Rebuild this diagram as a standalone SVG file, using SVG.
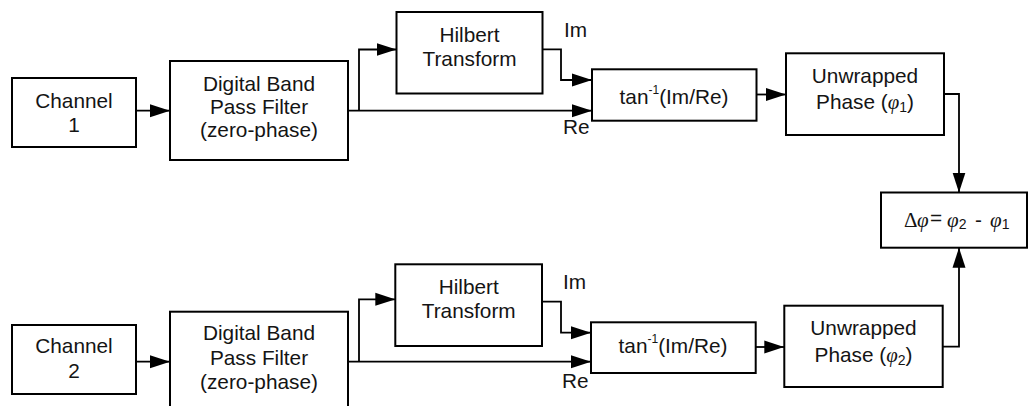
<svg xmlns="http://www.w3.org/2000/svg" width="1029" height="406" viewBox="0 0 1029 406">
  <style>
    .box { fill: #ffffff; stroke: #000000; stroke-width: 2; }
    .wire { fill: none; stroke: #000000; stroke-width: 1.8; marker-end: url(#arrow); }
    text { font-family: "Liberation Sans", Arial, sans-serif; font-size: 20.8px; fill: #141414; }
    .c { text-anchor: middle; }
    .greek { font-family: "Liberation Serif", "Times New Roman", serif; font-style: italic; }
    .big { font-size: 21px; }
    .sym { font-family: "Liberation Serif", "Times New Roman", serif; }
    .sub { font-size: 14px; }
    .sup { font-size: 12px; }
  </style>
  <defs>
    <marker id="arrow" markerUnits="userSpaceOnUse" markerWidth="20" markerHeight="14" refX="20" refY="7" orient="auto">
      <path d="M0,0.5 L20,7 L0,13.5 Z" fill="#000000"/>
    </marker>
  </defs>
  <rect width="1029" height="406" fill="#ffffff"/>

  <!-- signal paths -->
  <g id="connectors">
    <!-- channel 1 -->
    <path class="wire" d="M136,110.7 H170"/>
    <path class="wire" d="M347,110.7 H592"/>
    <path class="wire" d="M359,110.7 V49.5 H396.5"/>
    <path class="wire" d="M542.5,49.3 H561 V80 H592"/>
    <path class="wire" d="M756.5,94.5 H786"/>
    <path class="wire" d="M944,94 H959 V192.5"/>
    <!-- channel 2 -->
    <path class="wire" d="M136,361.7 H170"/>
    <path class="wire" d="M347,361.7 H591"/>
    <path class="wire" d="M359,361.7 V299.3 H395.3"/>
    <path class="wire" d="M542,301.7 H561 V332.7 H591"/>
    <path class="wire" d="M755.5,347 H784.3"/>
    <path class="wire" d="M942.7,346.7 H959 V247.7"/>
  </g>

  <!-- labels on the analytic-signal parts -->
  <g id="labels">
    <text x="564" y="36.7">Im</text>
    <text x="563" y="134.3">Re</text>
    <text x="563" y="289">Im</text>
    <text x="562" y="387.7">Re</text>
  </g>

  <!-- channel 1 chain -->
  <g id="channel1">
    <rect class="box" x="12" y="78" width="124" height="69"/>
    <text class="c" x="74" y="108.3">Channel</text>
    <text class="c" x="74" y="131.7">1</text>
  </g>
  <g id="bandpass1">
    <rect class="box" x="170" y="61" width="178" height="99"/>
    <text class="c" x="259" y="90.7">Digital Band</text>
    <text class="c" x="259" y="114">Pass Filter</text>
    <text class="c" x="259" y="137">(zero-phase)</text>
  </g>
  <g id="hilbert1">
    <rect class="box" x="396.5" y="12" width="146" height="81.5"/>
    <text class="c" x="469.5" y="42.3">Hilbert</text>
    <text class="c" x="469.5" y="65.7">Transform</text>
  </g>
  <g id="atan1">
    <rect class="box" x="592" y="69.3" width="164.5" height="51.4"/>
    <text class="c" x="674" y="103.5">tan<tspan class="sup" dy="-10">-1</tspan><tspan dy="10">(Im/Re)</tspan></text>
  </g>
  <g id="unwrap1">
    <rect class="box" x="786" y="53.3" width="158" height="81.7"/>
    <text class="c" x="865" y="83.3">Unwrapped</text>
    <text class="c" x="865" y="109">Phase (<tspan class="greek">φ</tspan><tspan class="sub" dy="3">1</tspan><tspan dy="-3">)</tspan></text>
  </g>

  <!-- phase difference -->
  <g id="difference">
    <rect class="box" x="881" y="192.5" width="146" height="55.2"/>
    <text y="227"><tspan class="sym big" x="904">Δ</tspan><tspan class="greek big" x="917">φ</tspan><tspan x="930" dy="-2">=</tspan><tspan class="greek big" x="947" dy="2">φ</tspan><tspan class="sub" dy="2">2</tspan><tspan x="975" dy="-2">-</tspan><tspan class="greek big" x="990">φ</tspan><tspan class="sub" dy="2">1</tspan></text>
  </g>

  <!-- channel 2 chain -->
  <g id="channel2">
    <rect class="box" x="12" y="325" width="124" height="69"/>
    <text class="c" x="74" y="353.3">Channel</text>
    <text class="c" x="74" y="377.7">2</text>
  </g>
  <g id="bandpass2">
    <rect class="box" x="170" y="311.7" width="178" height="110"/>
    <text class="c" x="259" y="340">Digital Band</text>
    <text class="c" x="259" y="364.5">Pass Filter</text>
    <text class="c" x="259" y="388.5">(zero-phase)</text>
  </g>
  <g id="hilbert2">
    <rect class="box" x="395.3" y="264.3" width="146.7" height="81.7"/>
    <text class="c" x="468.7" y="294">Hilbert</text>
    <text class="c" x="468.7" y="317.7">Transform</text>
  </g>
  <g id="atan2">
    <rect class="box" x="591" y="322.3" width="164.7" height="50.7"/>
    <text class="c" x="673" y="352.5">tan<tspan class="sup" dy="-10">-1</tspan><tspan dy="10">(Im/Re)</tspan></text>
  </g>
  <g id="unwrap2">
    <rect class="box" x="784.3" y="305.7" width="158.4" height="81.3"/>
    <text class="c" x="863.5" y="335">Unwrapped</text>
    <text class="c" x="863.5" y="361.7">Phase (<tspan class="greek">φ</tspan><tspan class="sub" dy="3">2</tspan><tspan dy="-3">)</tspan></text>
  </g>
</svg>
